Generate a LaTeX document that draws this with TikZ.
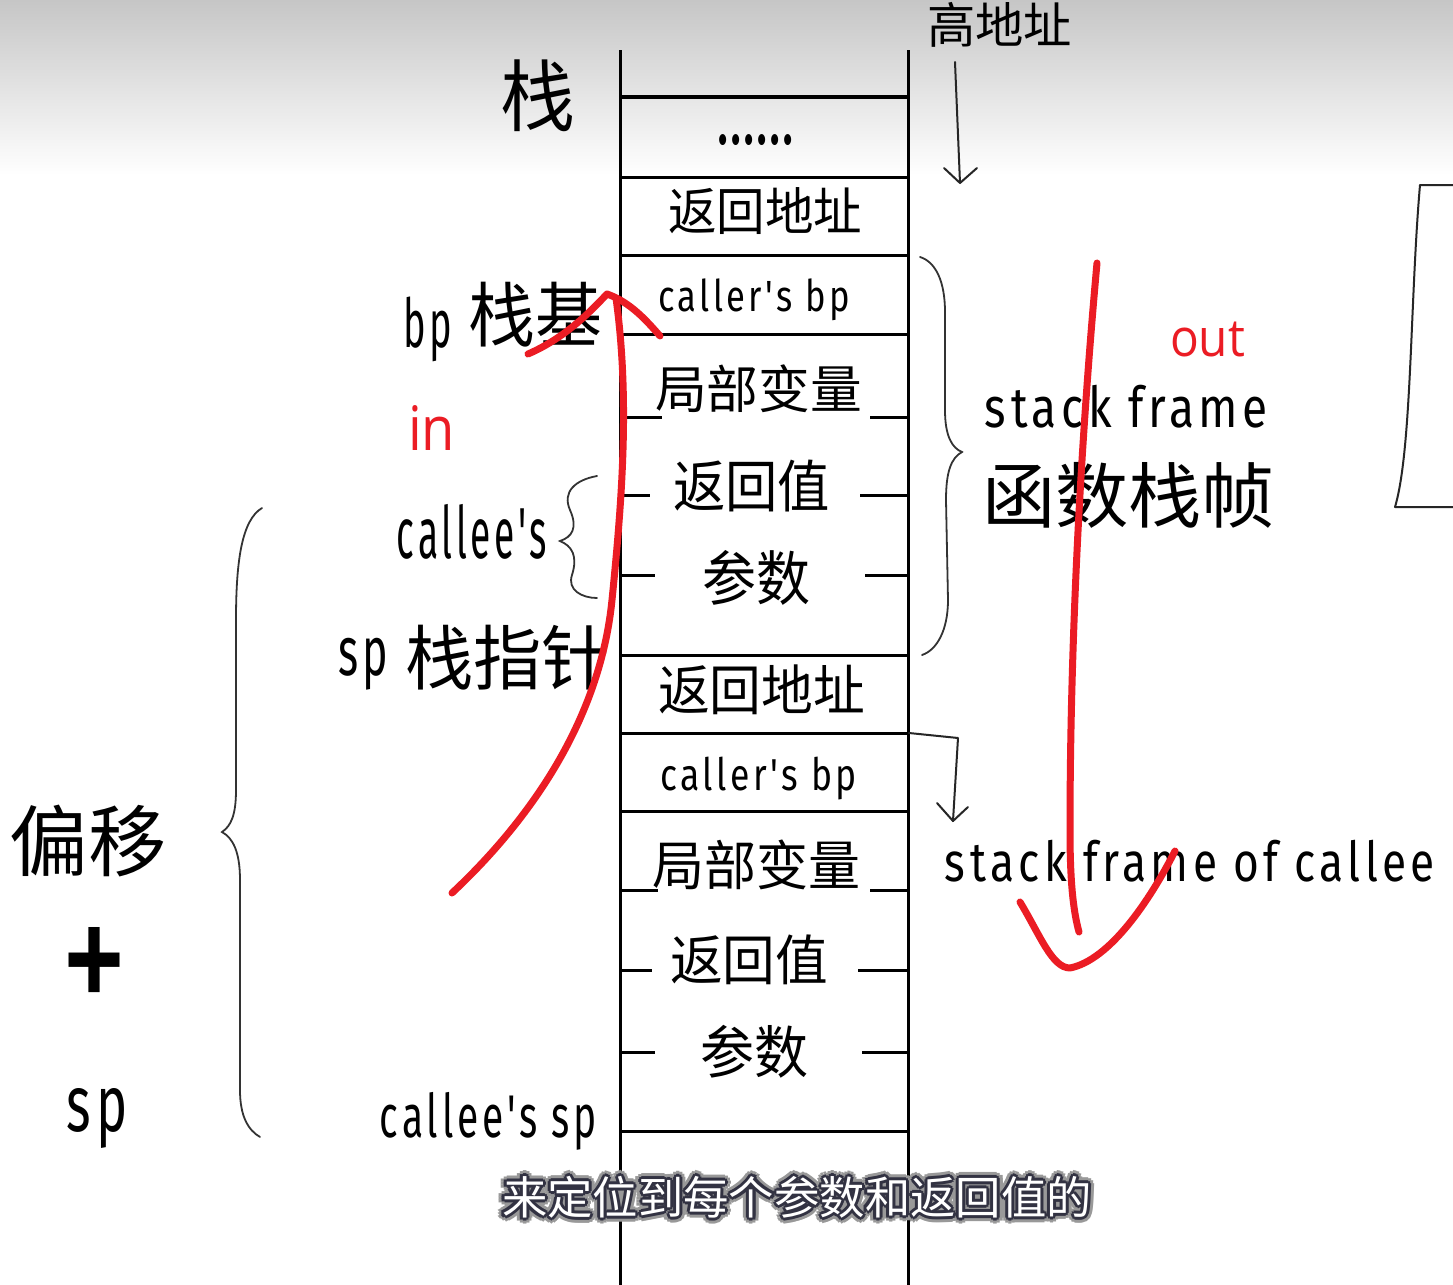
\documentclass[tikz,border=0pt]{standalone}
\usepackage{graphicx}
\usepackage{fontspec}
\newfontfamily\cjk{Noto Sans CJK SC}
\newfontfamily\hand[LetterSpace=10]{Fira Sans}
\newfontfamily\ui{Open Sans}
\newdimen\pxu \pxu=0.5pt
\newcommand\fit[3]{\resizebox*{#1\pxu}{#2\pxu}{#3}}
\newcommand\subtxt{\fit{590}{42}{\cjk 来定位到每个参数和返回值的}}
\definecolor{redpen}{RGB}{235,28,36}
\definecolor{outl}{RGB}{50,50,66}
\tikzset{
  stk/.style={line width=1.5pt, black},
  txt/.style={inner sep=0pt, outer sep=0pt},
  brc/.style={line width=0.9pt, draw=black!80, line cap=round},
  thinarrow/.style={line width=1pt, draw=black!85, line cap=round, line join=round},
  pen/.style={line width=3.5pt, draw=redpen, line cap=round, line join=round},
}
\begin{document}
\begin{tikzpicture}[x=0.5pt,y=-0.5pt]
\useasboundingbox (0,0) rectangle (1453,1285);
\fill[white] (0,0) rectangle (1453,1285);
\shade[top color={rgb,255:red,198;green,198;blue,198}, bottom color=white] (0,0) rectangle (1453,175);

% stack columns
\draw[stk] (620,50) -- (620,1285);
\draw[stk] (908,50) -- (908,1285);
\foreach \yy in {97,177,255,334,655,733,811,1131}
  \draw[stk] (620,\yy) -- (908,\yy);
\draw[line width=2pt] (620,97) -- (908,97);
% partial separators
\foreach \yy/\l/\r in {417/662/870, 495/650/860, 575/655/865, 890/658/870, 970/652/858, 1052/655/862}{
  \draw[stk] (620,\yy) -- (\l,\yy);
  \draw[stk] (\r,\yy) -- (908,\yy);
}

% cell texts
\node[txt] (dots) at (755.5,140.5) {\fit{75}{11}{\hand\bfseries ......}};
\node[txt] (ra1) at (765,211.5) {\fit{194}{47}{\cjk 返回地址}};
\node[txt] (cb1) at (754,300) {\fit{192}{42}{\hand caller's bp}};
\node[txt] (lv1) at (758.5,389) {\fit{207}{48}{\cjk 局部变量}};
\node[txt] (rv1) at (751.5,486) {\fit{157}{52}{\cjk 返回值}};
\node[txt] (pa1) at (756,577.5) {\fit{108}{55}{\cjk 参数}};
\node[txt] (ra2) at (761.5,690) {\fit{207}{50}{\cjk 返回地址}};
\node[txt] (cb2) at (758.5,778.5) {\fit{197}{43}{\hand caller's bp}};
\node[txt] (lv2) at (756,865) {\fit{208}{50}{\cjk 局部变量}};
\node[txt] (rv2) at (749,960) {\fit{158}{50}{\cjk 返回值}};
\node[txt] (pa2) at (754,1051.5) {\fit{108}{53}{\cjk 参数}};

% left labels
\node[txt] (zhan) at (537.5,96) {\fit{75}{72}{\cjk 栈}};
\node[txt] (bp) at (427.5,329.5) {\fit{49}{65}{\hand bp}};
\node[txt] (zj) at (535,314.5) {\fit{134}{65}{\cjk 栈基}};
\node[txt] (ces) at (472,532) {\fit{150}{55}{\hand callee's}};
\node[txt] (sp1) at (363,664) {\fit{50}{52}{\hand sp}};
\node[txt] (zzz) at (507.5,657.5) {\fit{205}{65}{\cjk 栈指针}};
\node[txt] (py) at (88.5,841) {\fit{157}{72}{\cjk 偏移}};
\node[txt] (plus) at (95,967) {\fit{60}{80}{\ui\bfseries +}};
\node[txt] (sp2) at (97.5,1118) {\fit{61}{60}{\hand sp}};
\node[txt] (cesp) at (488.5,1121) {\fit{217}{58}{\hand callee's sp}};

% right labels
\node[txt] (gdz) at (999.5,24.5) {\fit{145}{45}{\cjk 高地址}};
\node[txt] (sf) at (1126.5,406.5) {\fit{283}{43}{\hand stack frame}};
\node[txt] (hs) at (1128.5,495) {\fit{293}{66}{\cjk 函数栈帧}};
\node[txt] (sfc) at (1190,861) {\fit{490}{42}{\hand stack frame of callee}};

% braces
\draw[brc] (597,476) .. controls (575,480) and (562,492) .. (570,510)
  .. controls (578,528) and (572,537) .. (560,541)
  .. controls (572,546) and (578,556) .. (572,575)
  .. controls (567,590) and (582,598) .. (597,598);
\draw[brc] (262,508) .. controls (242,520) and (236,560) .. (236,620) -- (236,790)
  .. controls (236,815) and (231,826) .. (222,832)
  .. controls (233,838) and (240,852) .. (240,880) -- (240,1090)
  .. controls (240,1116) and (248,1130) .. (260,1137);
\draw[brc] (920,257) .. controls (936,262) and (945,282) .. (945,312) -- (945,410)
  .. controls (945,436) and (952,448) .. (962,452)
  .. controls (951,458) and (946,472) .. (946,500) -- (948,600)
  .. controls (948,630) and (937,650) .. (922,655);

% partial box at right edge
\draw[thinarrow] (1453,185) -- (1420,185) .. controls (1410,300) and (1412,450) .. (1395,507) -- (1453,507);

% arrows
\coordinate (a1s) at (955,62);
\coordinate (a1e) at (960,183);
\draw[thinarrow] (a1s) -- (a1e);
\draw[thinarrow] (944,168) -- (a1e) -- (977,168);
\coordinate (a2s) at (909,733);
\coordinate (a2m) at (958,738);
\coordinate (a2e) at (953,821);
\draw[thinarrow] (a2s) -- (a2m) -- (a2e);
\draw[thinarrow] (937,803) -- (a2e) -- (968,807);

% red annotations
\node[txt, text=redpen] (in) at (431.5,427.5) {\fit{47}{45}{\ui in}};
\node[txt, text=redpen] (out) at (1207.5,339.5) {\fit{75}{35}{\ui out}};
\coordinate (ins) at (452,893);
\coordinate (inm) at (612,600);
\coordinate (int) at (616,298);
\draw[pen] (ins) .. controls (530,820) and (600,720) .. (inm)
  .. controls (622,500) and (630,400) .. (int);
\draw[pen] (528,354) .. controls (565,338) and (590,312) .. (607,294)
  .. controls (630,302) and (646,320) .. (660,336);
\coordinate (outs) at (1097,263);
\coordinate (oute) at (1079,932);
\draw[pen] (outs) .. controls (1080,450) and (1070,650) .. (1070,830)
  .. controls (1070,880) and (1073,910) .. (oute);
\draw[pen] (1020,902) .. controls (1040,935) and (1052,968) .. (1070,968)
  .. controls (1110,960) and (1150,900) .. (1175,851);

% subtitle
\coordinate (sub) at (797,1197.5);
\foreach \a in {0,30,...,330}
  \node[txt, text=black!40] at ([shift={(\a:6)}]sub) {\subtxt};
\foreach \a in {0,45,...,315}
  \node[txt, text=outl] at ([shift={(\a:3)}]sub) {\subtxt};
\node[txt, text=white] (subt) at (sub) {\subtxt};
\end{tikzpicture}
\end{document}
